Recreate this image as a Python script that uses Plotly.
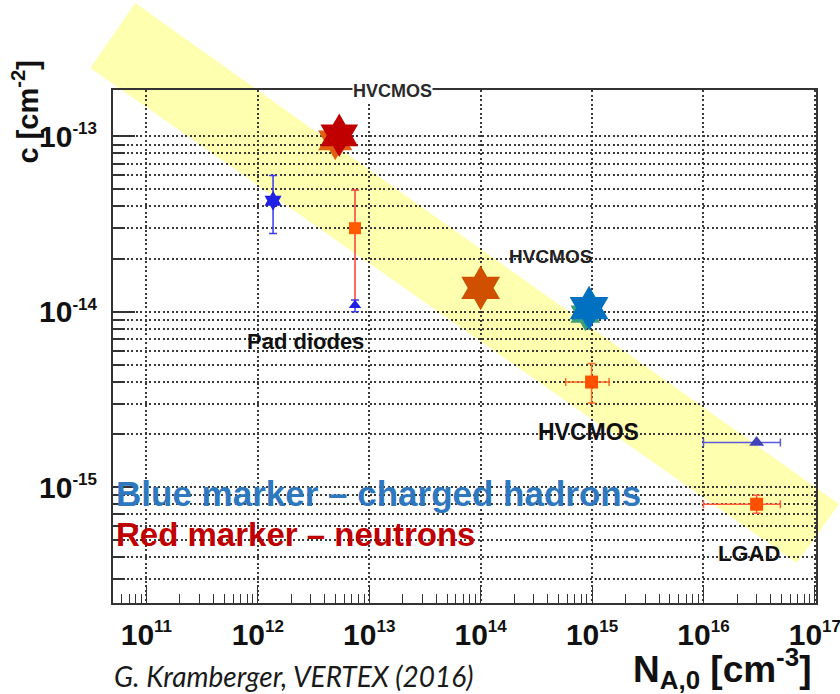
import numpy as np
import plotly.graph_objects as go

# ---------------- data ----------------
# Pad diodes
pad_ch_x = [1.37e12]; pad_ch_y = [4.3e-14]; pad_ch_ylo = [2.8e-14]; pad_ch_yhi = [6.0e-14]
pad_n_x = [7.45e12]; pad_n_y = [3.0e-14]; pad_n_ylo = [1.08e-14]; pad_n_yhi = [4.95e-14]
pad_tri_x = [7.45e12]; pad_tri_y = [1.09e-14]; pad_tri_ylo = [1.0e-14]; pad_tri_yhi = [1.17e-14]

# HVCMOS (big star markers)
hv_n_shadow_x = [4.95e12]; hv_n_shadow_y = [9.5e-14]
hv_n1_x = [5.38e12]; hv_n1_y = [1.016e-13]
hv_n2_x = [1.0e14]; hv_n2_y = [1.37e-14]
hv_ch_shadow_x = [8.7e14]; hv_ch_shadow_y = [9.7e-15]
hv_ch_x = [9.4e14]; hv_ch_y = [1.05e-14]

# HVCMOS (square with x/y errors)
hv_sq_x = [9.9e14]; hv_sq_xlo = [5.8e14]; hv_sq_xhi = [1.42e15]
hv_sq_y = [3.98e-15]; hv_sq_ylo = [3.02e-15]; hv_sq_yhi = [5.07e-15]

# LGAD
lg_tri_x = [3.0e16]; lg_tri_xlo = [1.0e16]; lg_tri_xhi = [4.9e16]; lg_tri_y = [1.8e-15]
lg_sq_x = [3.0e16]; lg_sq_xlo = [1.0e16]; lg_sq_xhi = [4.9e16]
lg_sq_y = [8.0e-16]; lg_sq_ylo = [7.1e-16]; lg_sq_yhi = [9.0e-16]

# axes
x_range_log = [10.70, 17.01]
y_range_log = [-15.66, -12.735]
y_tick_vals = [1e-15, 1e-14, 1e-13]
y_tick_exp = ["-15", "-14", "-13"]
x_tick_vals = [1e11, 1e12, 1e13, 1e14, 1e15, 1e16, 1e17]
x_tick_exp = ["11", "12", "13", "14", "15", "16", "17"]

SUP = "<sup><span style='font-size:17px'>{}</span></sup>"
y_tick_text = ["10" + SUP.format(e) for e in y_tick_exp]
x_tick_text = ["10" + SUP.format(e) for e in x_tick_exp]


def up(v, hi):
    return [h - a for a, h in zip(v, hi)]


def dn(v, lo):
    return [a - l for a, l in zip(v, lo)]


fig = go.Figure()

# Pad diodes: charged hadrons
fig.add_trace(go.Scatter(
    x=pad_ch_x, y=pad_ch_y, mode="markers",
    marker=dict(symbol="hexagram", size=15, color="#1f1fe6"),
    error_y=dict(type="data", symmetric=False, array=up(pad_ch_y, pad_ch_yhi),
                 arrayminus=dn(pad_ch_y, pad_ch_ylo), color="#3b3bf0", thickness=1.5, width=4),
    showlegend=False))
# Pad diodes: neutrons
fig.add_trace(go.Scatter(
    x=pad_n_x, y=pad_n_y, mode="markers",
    marker=dict(symbol="square", size=12, color="#ff5a00"),
    error_y=dict(type="data", symmetric=False, array=up(pad_n_y, pad_n_yhi),
                 arrayminus=dn(pad_n_y, pad_n_ylo), color="#ff3b30", thickness=1.5, width=4),
    showlegend=False))
fig.add_trace(go.Scatter(
    x=pad_tri_x, y=pad_tri_y, mode="markers",
    marker=dict(symbol="triangle-up", size=11, color="#1f1fe6"),
    error_y=dict(type="data", symmetric=False, array=up(pad_tri_y, pad_tri_yhi),
                 arrayminus=dn(pad_tri_y, pad_tri_ylo), color="#3b3bf0", thickness=1.5, width=4),
    showlegend=False))

# HVCMOS big stars
fig.add_trace(go.Scatter(x=hv_n_shadow_x, y=hv_n_shadow_y, mode="markers",
                         marker=dict(symbol="hexagram", size=30, color="#e06010"), showlegend=False))
fig.add_trace(go.Scatter(x=hv_n1_x, y=hv_n1_y, mode="markers",
                         marker=dict(symbol="hexagram", size=33, color="#c00000"), showlegend=False))
fig.add_trace(go.Scatter(x=hv_n2_x, y=hv_n2_y, mode="markers",
                         marker=dict(symbol="hexagram", size=34, color="#d05000"), showlegend=False))
fig.add_trace(go.Scatter(x=hv_ch_shadow_x, y=hv_ch_shadow_y, mode="markers",
                         marker=dict(symbol="hexagram", size=26, color="#3aa07a"), showlegend=False))
fig.add_trace(go.Scatter(x=hv_ch_x, y=hv_ch_y, mode="markers",
                         marker=dict(symbol="hexagram", size=34, color="#0070c0"), showlegend=False))

# HVCMOS square
fig.add_trace(go.Scatter(
    x=hv_sq_x, y=hv_sq_y, mode="markers",
    marker=dict(symbol="square", size=13, color="#ff5000"),
    error_x=dict(type="data", symmetric=False, array=up(hv_sq_x, hv_sq_xhi),
                 arrayminus=dn(hv_sq_x, hv_sq_xlo), color="#ff6a2a", thickness=1.5, width=4),
    error_y=dict(type="data", symmetric=False, array=up(hv_sq_y, hv_sq_yhi),
                 arrayminus=dn(hv_sq_y, hv_sq_ylo), color="#ff6a2a", thickness=1.5, width=4),
    showlegend=False))

# LGAD
fig.add_trace(go.Scatter(
    x=lg_tri_x, y=lg_tri_y, mode="markers",
    marker=dict(symbol="triangle-up", size=13, color="#4343b8"),
    error_x=dict(type="data", symmetric=False, array=up(lg_tri_x, lg_tri_xhi),
                 arrayminus=dn(lg_tri_x, lg_tri_xlo), color="#5a5ad8", thickness=1.5, width=4),
    showlegend=False))
fig.add_trace(go.Scatter(
    x=lg_sq_x, y=lg_sq_y, mode="markers",
    marker=dict(symbol="square", size=13, color="#ff5000"),
    error_x=dict(type="data", symmetric=False, array=up(lg_sq_x, lg_sq_xhi),
                 arrayminus=dn(lg_sq_x, lg_sq_xlo), color="#ff5a3a", thickness=1.5, width=4),
    error_y=dict(type="data", symmetric=False, array=up(lg_sq_y, lg_sq_yhi),
                 arrayminus=dn(lg_sq_y, lg_sq_ylo), color="#ff5a3a", thickness=1.5, width=4),
    showlegend=False))

GRID = "#3a3a3a"
DASH = "2px,2.5px"
FONT = "Liberation Sans, Arial, sans-serif"

fig.update_xaxes(
    type="log", range=x_range_log, tickmode="array", tickvals=x_tick_vals, ticktext=x_tick_text,
    showline=True, linecolor="#333333", linewidth=2, mirror=True, automargin=False,
    ticks="inside", ticklen=18, tickwidth=1.2, tickcolor="#333333",
    showgrid=True, gridcolor=GRID, gridwidth=1.5, griddash=DASH,
    tickfont=dict(family=FONT, size=30, color="#111111", weight="bold"),
    ticklabelstandoff=4, ticklabeloverflow="allow", zeroline=False,
    minor=dict(tickmode="linear", dtick="D1", ticks="inside", ticklen=9, tickcolor="#333333",
               tickwidth=1.2, showgrid=False),
)
fig.update_yaxes(
    type="log", range=y_range_log, tickmode="array", tickvals=y_tick_vals, ticktext=y_tick_text,
    showline=True, linecolor="#333333", linewidth=2, mirror=True, automargin=False,
    ticks="inside", ticklen=22, tickwidth=1.5, tickcolor="#333333",
    showgrid=True, gridcolor=GRID, gridwidth=1.5, griddash=DASH,
    tickfont=dict(family=FONT, size=30, color="#111111", weight="bold"),
    ticklabelstandoff=8, zeroline=False,
    minor=dict(tickmode="linear", dtick="D1", ticks="inside", ticklen=12, tickcolor="#333333",
               tickwidth=1.5, showgrid=True, gridcolor=GRID, gridwidth=1.5, griddash=DASH),
)

# yellow highlight band (paper coordinates of its four corners)
band_x = [0.0317, 1.0327, 0.9729, -0.0323]
band_y = [1.1696, 0.1930, 0.0780, 1.0429]
band_path = "M " + " L ".join(f"{a},{b}" for a, b in zip(band_x, band_y)) + " Z"
fig.add_shape(type="path", path=band_path, xref="paper", yref="paper",
              fillcolor="#ffffb0", line=dict(width=0), layer="below", opacity=1)


def label(text, x, y, size, color="#151515", xanchor="center", bg=None, angle=0, italic=False, family=FONT):
    fig.add_annotation(text=text, x=x, y=y, xref="paper", yref="paper", showarrow=False,
                       xanchor=xanchor, yanchor="middle", textangle=angle,
                       bgcolor=bg, borderpad=0,
                       font=dict(family=family, size=size, color=color,
                                 style="italic" if italic else "normal"))


label("<b>HVCMOS</b>", 0.3971, 0.998, 18, color="#2a2a2a", bg="white")
label("<b>HVCMOS</b>", 0.6218, 0.675, 19, color="#222222")
label("<b>HVCMOS</b>", 0.6758, 0.334, 23, color="#111111")
label("<b>Pad diodes</b>", 0.2734, 0.509, 22, color="#111111")
label("<b>LGAD</b>", 0.9047, 0.097, 22, color="#111111")
label("<b>Blue marker – charged hadrons</b>", 0.0033, 0.2144, 35, color="#2e78c0", xanchor="left")
label("<b>Red marker – neutrons</b>", 0.0033, 0.1326, 33, color="#c00000", xanchor="left")
label("<b>c [cm<sup>-2</sup>]</b>", -0.1245, 0.957, 29, color="#111111", angle=-90)
label("<b>N<sub>A,0</sub> [cm<sup>-3</sup>]</b>", 0.9943, -0.127, 37, color="#111111", xanchor="right")
label("G. Kramberger, VERTEX (2016)", 0.0, -0.1423, 28, color="#1a1a1a", xanchor="left",
      italic=True, family="Lato, Open Sans, sans-serif")

fig.update_layout(
    width=840, height=694,
    margin=dict(l=113, r=24, t=90, b=91),
    paper_bgcolor="white", plot_bgcolor="rgba(0,0,0,0)",
    showlegend=False,
)

fig.write_html("out.html")
